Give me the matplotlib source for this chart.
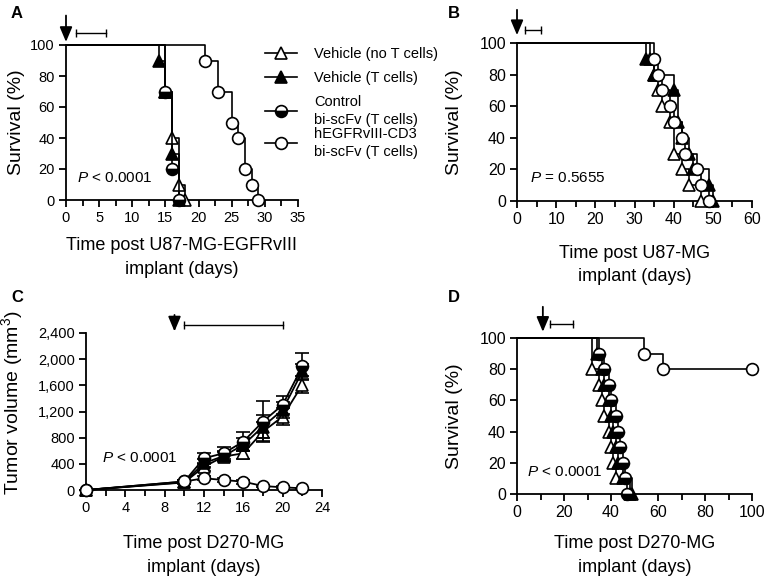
import matplotlib
matplotlib.use("Agg")
import matplotlib.pyplot as plt
from matplotlib.lines import Line2D
from matplotlib.ticker import MultipleLocator, FuncFormatter
import matplotlib.transforms as mtransforms

plt.rcParams['font.family'] = ['Liberation Sans', 'DejaVu Sans']
plt.rcParams['mathtext.fontset'] = 'custom'
plt.rcParams['mathtext.rm'] = 'Liberation Sans'
plt.rcParams['mathtext.it'] = 'Liberation Sans:italic'

# ---------------- data ----------------
legend_labels = ["Vehicle (no T cells)", "Vehicle (T cells)",
                 "Control\nbi-scFv (T cells)", "hEGFRvIII-CD3\nbi-scFv (T cells)"]

# Panel A (survival, %)
a_noT_t = [0, 15, 16, 17, 18]
a_noT_s = [100, 70, 40, 10, 0]
a_T_t = [0, 14, 15, 16, 17]
a_T_s = [100, 90, 70, 30, 0]
a_ctrl_t = [0, 15, 16, 17]
a_ctrl_s = [100, 70, 20, 0]
a_bite_t = [0, 21, 23, 25, 26, 27, 28, 29]
a_bite_s = [100, 90, 70, 50, 40, 20, 10, 0]

# Panel B
b_noT_t = [0, 34, 35, 36, 37, 39, 40, 42, 44, 47]
b_noT_s = [100, 90, 80, 70, 60, 50, 30, 20, 10, 0]
b_T_t = [0, 33, 35, 40, 41, 42, 44, 45, 49, 50]
b_T_s = [100, 90, 80, 70, 50, 40, 30, 20, 10, 0]
b_bite_t = [0, 35, 36, 37, 39, 40, 42, 43, 46, 47, 49]
b_bite_s = [100, 90, 80, 70, 60, 50, 40, 30, 20, 10, 0]

# Panel C (tumor volume, mm3)
c_days = [0, 10, 12, 14, 16, 18, 20, 22]
c_noT = [0, 115, 357, 510, 562, 893, 1123, 1609]
c_noT_err = [0, 20, 60, 70, 90, 150, 130, 130]
c_T = [0, 120, 410, 520, 690, 970, 1226, 1813]
c_T_err = [0, 20, 60, 70, 100, 180, 120, 120]
c_ctrl = [0, 130, 485, 562, 740, 1047, 1302, 1889]
c_ctrl_err = [0, 20, 80, 90, 150, 320, 140, 200]
c_bite = [0, 130, 179, 153, 127, 61, 41, 26]
c_bite_err = [0, 20, 30, 30, 30, 20, 15, 10]

# Panel D
d_noT_t = [0, 32, 35, 36, 37, 39, 40, 41, 42, 48]
d_noT_s = [100, 80, 70, 60, 50, 40, 30, 20, 10, 0]
d_T_t = [0, 34, 36, 37, 39, 40, 41, 42, 43, 45, 49]
d_T_s = [100, 90, 80, 70, 60, 50, 40, 30, 20, 10, 0]
d_ctrl_t = [0, 35, 37, 39, 40, 42, 43, 44, 45, 46, 47]
d_ctrl_s = [100, 90, 80, 70, 60, 50, 40, 30, 20, 10, 0]
d_bite_t = [0, 54, 62, 100]
d_bite_s = [100, 90, 80, 80]

# ---------------- styles ----------------
MEW = 1.2
styles = {
    'noT': dict(marker='^', markerfacecolor='white', markeredgecolor='black', markersize=8.5),
    'T': dict(marker='^', markerfacecolor='black', markeredgecolor='black', markersize=8.5),
    'ctrl': dict(marker='o', fillstyle='bottom', markerfacecolor='black',
                 markerfacecoloralt='white', markeredgecolor='black', markersize=8.5),
    'bite': dict(marker='o', markerfacecolor='white', markeredgecolor='black', markersize=8.5),
}

LABEL_FS = 13
W, H = 771, 585
fig = plt.figure(figsize=(W / 100, H / 100), dpi=100)


def px_axes(x0, x1, ytop, ybot):
    ax = fig.add_axes([x0 / W, 1 - ybot / H, (x1 - x0) / W, (ybot - ytop) / H])
    ax._px = (x0, x1, ytop, ybot)
    return ax


def style_axes(ax, tick_fs):
    for s in ['top', 'right']:
        ax.spines[s].set_visible(False)
    for s in ['left', 'bottom']:
        ax.spines[s].set_linewidth(1.3)
    ax.tick_params(which='major', direction='out', length=5, width=1.3, labelsize=tick_fs, pad=3)
    ax.tick_params(which='minor', direction='out', length=4, width=1.3)
    ax.tick_params(axis='y', which='minor', left=False)


def labels(ax, xl, yl, x_top_px, y_right_px, yfs, y_center_px=None):
    x0, x1, ytop, ybot = ax._px
    ax.set_xlabel(xl, fontsize=LABEL_FS, linespacing=1.5)
    ax.set_ylabel(yl, fontsize=yfs)
    ax.xaxis.set_label_coords(0.5, (ybot - x_top_px) / (ybot - ytop))
    yc = 0.5 if y_center_px is None else (ybot - y_center_px) / (ybot - ytop)
    ax.yaxis.set_label_coords((y_right_px - x0) / (x1 - x0), yc)


def survival(ax, t, s, key, z=3):
    ax.plot(t, s, drawstyle='steps-post', color='black', lw=1.2, zorder=z, clip_on=False)
    ax.plot(t[1:], s[1:], linestyle='none', markeredgewidth=MEW, zorder=z + 1,
            clip_on=False, **styles[key])


def dosing(ax, x_arrow, y_top, y_tip, bar_x0, bar_x1, bar_y):
    trans = mtransforms.blended_transform_factory(ax.transData, ax.transAxes)
    ax.annotate('', xy=(x_arrow, y_tip), xytext=(x_arrow, y_top),
                xycoords=trans, textcoords=trans, annotation_clip=False,
                arrowprops=dict(arrowstyle='-|>,head_length=0.9,head_width=0.38',
                                color='black', lw=1.3, mutation_scale=10, shrinkA=0, shrinkB=0))
    ax.plot([bar_x0, bar_x1], [bar_y, bar_y], transform=trans, color='black', lw=1.0,
            marker='|', markersize=6, markeredgewidth=1.0, clip_on=False)


def ptext(ax, x, y, txt):
    ax.text(x, y, r'$\mathit{P}$' + txt, fontsize=11, va='center', ha='left')


comma = FuncFormatter(lambda v, p: f"{int(v):,}")

# ---------------- Panel A ----------------
axA = px_axes(66, 298, 45, 200)
style_axes(axA, 10.5)
survival(axA, a_noT_t, a_noT_s, 'noT', 3)
survival(axA, a_T_t, a_T_s, 'T', 3)
survival(axA, a_ctrl_t, a_ctrl_s, 'ctrl', 5)
survival(axA, a_bite_t, a_bite_s, 'bite', 3)
axA.set_xlim(0, 35)
axA.set_ylim(0, 100)
axA.xaxis.set_major_locator(MultipleLocator(5))
axA.xaxis.set_minor_locator(MultipleLocator(2.5))
axA.yaxis.set_major_locator(MultipleLocator(20))
labels(axA, 'Time post U87-MG-EGFRvIII\nimplant (days)', 'Survival (%)', 237, 25, 14)
ptext(axA, 1.6, 14, ' < 0.0001')
dosing(axA, 0, 1.19, 1.02, 1.5, 6, 1.077)

# legend (one entry per block so the spacing follows the original)
legend_keys = ['noT', 'T', 'ctrl', 'bite']
legend_y_px = [54, 78, 111, 143]
for key, lab, ypx in zip(legend_keys, legend_labels, legend_y_px):
    h = Line2D([0], [0], color='black', lw=1.2, markeredgewidth=MEW, **styles[key])
    leg = fig.legend([h], [lab], loc='center left', bbox_to_anchor=(265 / W, 1 - ypx / H),
                     frameon=False, fontsize=10.5, handlelength=2.2, handletextpad=1.15,
                     borderpad=0, borderaxespad=0)
    for t in leg.get_texts():
        t.set_linespacing(1.45)

# ---------------- Panel B ----------------
axB = px_axes(517, 752, 43, 201)
style_axes(axB, 11.5)
survival(axB, b_noT_t, b_noT_s, 'noT', 3)
survival(axB, b_T_t, b_T_s, 'T', 3)
survival(axB, b_bite_t, b_bite_s, 'bite', 5)
axB.set_xlim(0, 60)
axB.set_ylim(0, 100)
axB.xaxis.set_major_locator(MultipleLocator(10))
axB.xaxis.set_minor_locator(MultipleLocator(5))
axB.yaxis.set_major_locator(MultipleLocator(20))
labels(axB, 'Time post U87-MG\nimplant (days)', 'Survival (%)', 244.5, 463, 14)
ptext(axB, 3.4, 14.4, ' = 0.5655')
dosing(axB, 0, 1.21, 1.05, 2, 6, 1.084)

# ---------------- Panel C ----------------
axC = px_axes(86, 322, 333, 490)
style_axes(axC, 10.5)
for y, e, key, z in [(c_noT, c_noT_err, 'noT', 3), (c_T, c_T_err, 'T', 4),
                     (c_ctrl, c_ctrl_err, 'ctrl', 5), (c_bite, c_bite_err, 'bite', 6)]:
    axC.errorbar(c_days, y, yerr=e, color='black', lw=1.3, elinewidth=1.2, capsize=5,
                 capthick=1.2, markeredgewidth=MEW, zorder=z, clip_on=False, **styles[key])
axC.set_xlim(0, 24)
axC.set_ylim(0, 2400)
axC.xaxis.set_major_locator(MultipleLocator(4))
axC.xaxis.set_minor_locator(MultipleLocator(2))
axC.yaxis.set_major_locator(MultipleLocator(400))
axC.yaxis.set_major_formatter(comma)
labels(axC, 'Time post D270-MG\nimplant (days)', 'Tumor volume (mm$^3$)', 535, 25, 14, 403)
ptext(axC, 1.6, 486, ' < 0.0001')
dosing(axC, 9, 1.115, 1.01, 10, 20, 1.053)

# ---------------- Panel D ----------------
axD = px_axes(517, 752, 338, 494)
style_axes(axD, 11.5)
survival(axD, d_noT_t, d_noT_s, 'noT', 3)
survival(axD, d_T_t, d_T_s, 'T', 4)
survival(axD, d_ctrl_t, d_ctrl_s, 'ctrl', 5)
survival(axD, d_bite_t, d_bite_s, 'bite', 6)
axD.set_xlim(0, 100)
axD.set_ylim(0, 100)
axD.xaxis.set_major_locator(MultipleLocator(20))
axD.xaxis.set_minor_locator(MultipleLocator(10))
axD.yaxis.set_major_locator(MultipleLocator(20))
labels(axD, 'Time post D270-MG\nimplant (days)', 'Survival (%)', 535, 463, 14)
ptext(axD, 4.2, 14.3, ' < 0.0001')
dosing(axD, 11, 1.20, 1.04, 14, 24, 1.088)

# panel letters
for letter, x, y in [('A', 11, 13), ('B', 448, 13), ('C', 11, 297), ('D', 448, 297)]:
    fig.text(x / W, 1 - y / H, letter, fontsize=12, fontweight='bold', va='center', ha='left')

fig.savefig('out.png', dpi=100)
